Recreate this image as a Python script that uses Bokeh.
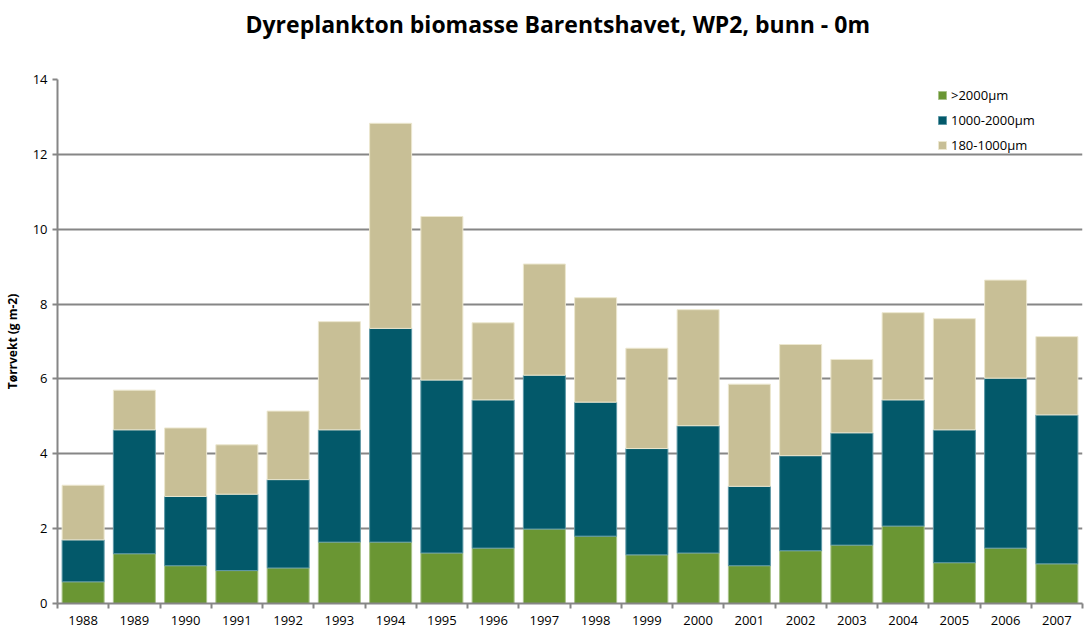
from bokeh.plotting import figure
from bokeh.models import FixedTicker, CustomJSTickFormatter, Range1d, Legend, LegendItem, ColumnDataSource, Title
from bokeh.embed import file_html
from bokeh.resources import INLINE

years = ["1988", "1989", "1990", "1991", "1992", "1993", "1994", "1995", "1996", "1997",
         "1998", "1999", "2000", "2001", "2002", "2003", "2004", "2005", "2006", "2007"]
# cumulative tops
over_2000 = [0.58, 1.33, 1.01, 0.88, 0.95, 1.64, 1.64, 1.35, 1.48, 1.99,
             1.80, 1.30, 1.35, 1.01, 1.41, 1.56, 2.07, 1.09, 1.48, 1.06]
top_1000_2000 = [1.70, 4.64, 2.86, 2.92, 3.31, 4.64, 7.35, 5.97, 5.44, 6.10,
                 5.38, 4.14, 4.75, 3.13, 3.95, 4.56, 5.44, 4.64, 6.02, 5.04]
totals = [3.16, 5.70, 4.69, 4.24, 5.14, 7.53, 12.83, 10.34, 7.50, 9.07,
          8.17, 6.82, 7.85, 5.86, 6.92, 6.52, 7.77, 7.61, 8.64, 7.13]
series_names = [">2000µm", "1000-2000µm", "180-1000µm"]
colors = ["#6A9633", "#03596A", "#C8BF96"]

x = [i + 0.5 for i in range(len(years))]
src = ColumnDataSource(dict(x=x, g0=[0] * len(years), g1=over_2000, t1=top_1000_2000, tot=totals))

p = figure(frame_width=1025, frame_height=524, output_backend="svg", toolbar_location=None,
           x_range=Range1d(0, len(years)), y_range=Range1d(0, 14),
           min_border_left=49, min_border_right=3, min_border_top=71, min_border_bottom=0)
p.outline_line_color = None
p.background_fill_color = "white"

spacer = Title(text=" ", text_font_size="21px")
p.add_layout(spacer, "above")
p.title.text = "Dyreplankton biomasse Barentshavet, WP2, bunn - 0m"
p.title.align = "left"
p.title.offset = 188
p.title.text_font = "Open Sans"
p.title.text_font_style = "bold"
p.title.text_font_size = "23px"
p.title.text_color = "#000000"

w = 0.82
r0 = p.vbar(x="x", bottom="g0", top="g1", width=w, source=src, fill_color=colors[0],
            line_color="#A9C38A", line_width=1)
r1 = p.vbar(x="x", bottom="g1", top="t1", width=w, source=src, fill_color=colors[1],
            line_color="#5E98A6", line_width=1)
r2 = p.vbar(x="x", bottom="t1", top="tot", width=w, source=src, fill_color=colors[2],
            line_color="#ECE7CF", line_width=1)

# axes
p.xaxis.ticker = FixedTicker(ticks=x, minor_ticks=list(range(len(years) + 1)))
p.xaxis.formatter = CustomJSTickFormatter(args=dict(labels=years),
                                          code="return labels[Math.floor(tick)];")
p.xaxis.major_tick_line_color = None
p.xaxis.major_tick_out = 5
p.xaxis.major_tick_in = 0
p.xaxis.minor_tick_line_color = "#868686"
p.xaxis.minor_tick_line_width = 2
p.xaxis.minor_tick_out = 5
p.xaxis.minor_tick_in = 0
p.xaxis.axis_line_color = "#868686"
p.xaxis.axis_line_width = 2
p.xaxis.major_label_text_font = "Open Sans"
p.xaxis.major_label_text_font_size = "13px"
p.xaxis.major_label_text_color = "#000000"
p.xaxis.major_label_standoff = 7

p.yaxis.ticker = FixedTicker(ticks=[0, 2, 4, 6, 8, 10, 12, 14])
p.yaxis.axis_line_color = "#868686"
p.yaxis.axis_line_width = 2
p.yaxis.major_tick_line_color = "#868686"
p.yaxis.major_tick_line_width = 2
p.yaxis.major_tick_out = 5
p.yaxis.major_tick_in = 0
p.yaxis.minor_tick_line_color = None
p.yaxis.major_label_text_font = "Open Sans"
p.yaxis.major_label_text_font_size = "13px"
p.yaxis.major_label_text_color = "#000000"
p.yaxis.major_label_standoff = 5
p.yaxis.axis_label = "Tørrvekt (g m-2)"
p.yaxis.axis_label_text_font = "Open Sans"
p.yaxis.axis_label_text_font_style = "bold"
p.yaxis.axis_label_text_font_size = "12px"
p.yaxis.axis_label_text_color = "#000000"
p.yaxis.axis_label_standoff = 9

p.xgrid.grid_line_color = None
p.ygrid.grid_line_color = "#868686"
p.ygrid.grid_line_width = 2

legend = Legend(items=[LegendItem(label=series_names[0], renderers=[r0]),
                       LegendItem(label=series_names[1], renderers=[r1]),
                       LegendItem(label=series_names[2], renderers=[r2])],
                location=(880, 448), orientation="vertical")
legend.border_line_color = None
legend.background_fill_alpha = 0
legend.padding = 0
legend.margin = 0
legend.spacing = 5
legend.label_height = 20
legend.glyph_height = 10
legend.glyph_width = 10
legend.label_standoff = 4
legend.label_text_font = "Open Sans"
legend.label_text_font_size = "13px"
legend.label_text_color = "#000000"
p.add_layout(legend, "center")

open("out.html", "w").write(file_html(p, INLINE))
